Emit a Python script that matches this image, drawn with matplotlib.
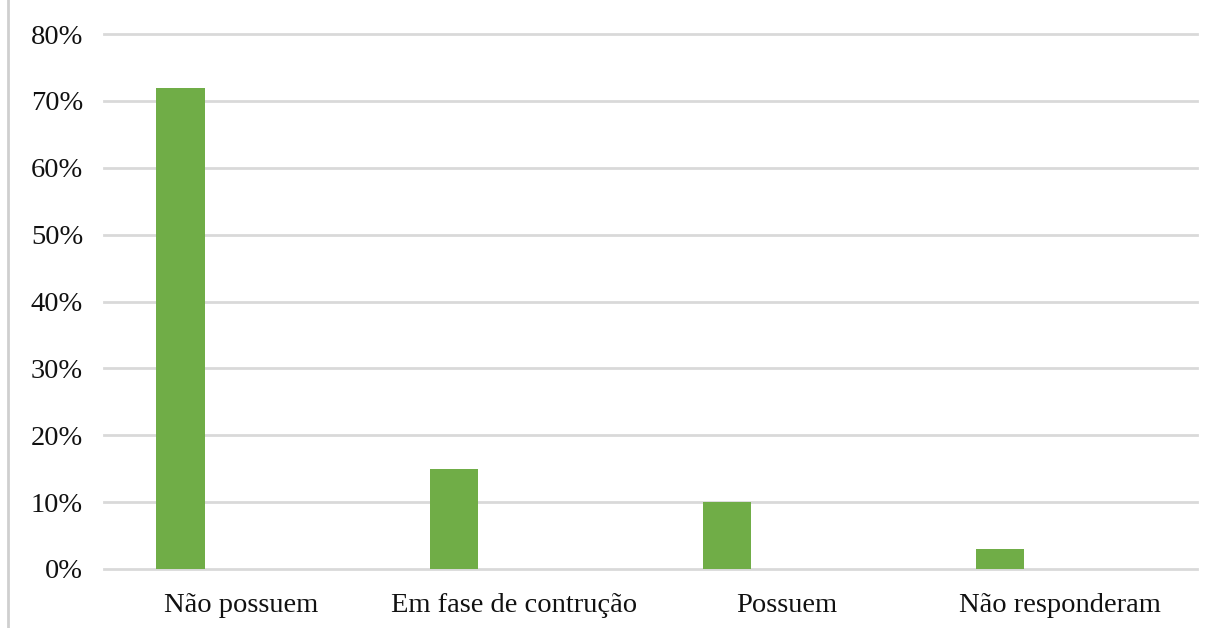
import numpy as np
import matplotlib.pyplot as plt
from matplotlib.lines import Line2D
from matplotlib.ticker import PercentFormatter

categories = ["Não possuem", "Em fase de contrução", "Possuem", "Não responderam"]
values = [72, 15, 10, 3]
y_ticks = [0, 10, 20, 30, 40, 50, 60, 70, 80]

plt.rcParams['font.family'] = ['Liberation Serif', 'DejaVu Serif']

fig = plt.figure(figsize=(12.22, 6.28), dpi=100)
ax = fig.add_axes([104 / 1222, 59 / 628, (1197 - 104) / 1222, (569 - 34) / 628])

x = np.arange(len(categories))
bar_w = 0.176
offset = -0.22
ax.bar(x + offset, values, width=bar_w, color='#70AD47', zorder=3)

ax.set_xlim(-0.5, len(categories) - 0.5)
ax.set_ylim(0, 80)
ax.set_yticks(y_ticks)
ax.yaxis.set_major_formatter(PercentFormatter(decimals=0))
ax.set_xticks(x)
ax.set_xticklabels(categories)

ax.grid(axis='y', color='#d9d9d9', linewidth=2, zorder=0)
for gl in ax.get_ygridlines():
    gl.set_clip_on(False)
for s in ax.spines.values():
    s.set_visible(False)
ax.tick_params(axis='both', length=0, labelsize=20.5, colors='#111111')
ax.tick_params(axis='y', pad=15)
ax.tick_params(axis='x', pad=17)

# thin frame line at the far left
fig.add_artist(Line2D([8 / 1222, 8 / 1222], [0, 1], color='#cfcfcf', linewidth=2))

fig.savefig('out.png', dpi=100)
